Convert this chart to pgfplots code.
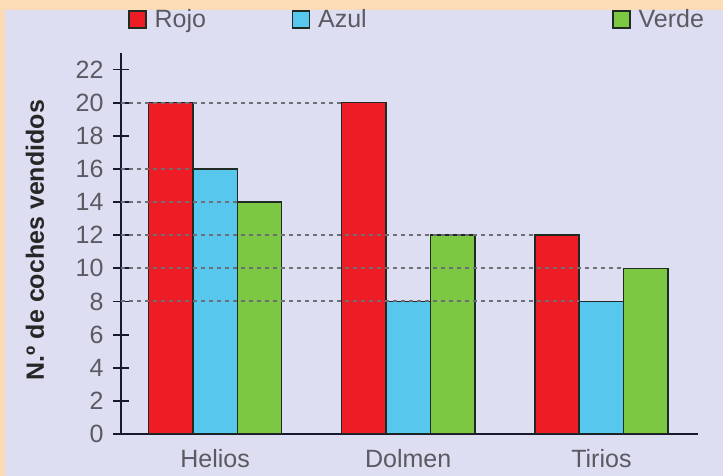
\documentclass[border=0pt]{standalone}
\usepackage{fontspec}
\setmainfont{Liberation Sans}
\usepackage{pgfplots}
\pgfplotsset{compat=1.18}
\definecolor{peach}{HTML}{FCDCB6}
\definecolor{lav}{HTML}{DDDEF1}
\definecolor{rojo}{HTML}{EE1C25}
\definecolor{azul}{HTML}{58C7EE}
\definecolor{verde}{HTML}{7CC843}
\definecolor{txtgray}{HTML}{5A5A62}
\definecolor{edge}{HTML}{1E2A22}
\definecolor{axcol}{HTML}{1A1A2E}
\definecolor{dashcol}{HTML}{6E6E78}
\pgfplotsset{
  bx/.style={legend image code/.code={\draw[##1, line width=1.5pt] (0pt,-8.5pt) rectangle (17pt,8.5pt);}},
  refline/.style={sharp plot, forget plot, draw=dashcol, line width=2pt, dash pattern=on 4pt off 4pt},
}
\begin{document}
\begin{tikzpicture}
\useasboundingbox (0pt,0pt) rectangle (723pt,476pt);
\fill[peach] (0pt,0pt) rectangle (723pt,476pt);
\fill[lav] (5pt,0pt) rectangle (723pt,466pt);
\begin{axis}[
  at={(121pt,42pt)}, anchor=south west,
  scale only axis, width=577pt, height=381pt,
  xmin=-0.487, xmax=2.5, ymin=0, ymax=23,
  axis lines*=left,
  axis line style={line width=2.2pt, color=axcol},
  ybar, bar width=0.23,
  xtick={0,1,2}, xticklabels={Helios,Dolmen,Tirios},
  ytick={0,2,...,22},
  xtick style={draw=none},
  ytick style={line width=1.8pt, color=axcol},
  tick align=center, major tick length=16pt,
  /pgf/number format/assume math mode=true,
  tick label style={font=\fontsize{25}{28}\selectfont, text=txtgray},
  xticklabel style={inner ysep=0pt, yshift=-7pt},
  yticklabel style={xshift=-6pt},
  ylabel={\bfseries N.º de coches vendidos},
  ylabel style={at={(axis description cs:-0.149,0.509)}, anchor=center, font=\fontsize{25}{28}\selectfont, text=black!85},
  legend style={draw=none, fill=none, at={(0.012,1.088)}, anchor=west, inner sep=0pt,
    legend columns=3, font=\fontsize{25}{28}\selectfont, text=txtgray,
    /tikz/every even column/.append style={column sep=0pt}},
]
\addplot[bx, bar shift=-0.23, fill=rojo, draw=edge, line width=1.5pt] coordinates {(0,20) (1,20) (2,12)};
\addlegendentry{\hspace{6pt}\makebox[135pt][l]{Rojo}}
\addplot[bx, bar shift=0, fill=azul, draw=edge, line width=1.5pt] coordinates {(0,16) (1,8) (2,8)};
\addlegendentry{\hspace{6pt}\makebox[292pt][l]{Azul}}
\addplot[bx, bar shift=0.23, fill=verde, draw=edge, line width=1.5pt] coordinates {(0,14) (1,12) (2,10)};
\addlegendentry{\hspace{6pt}Verde}
% reference lines
\addplot[refline] coordinates {(-0.487,20) (0.655,20)};
\addplot[refline] coordinates {(-0.487,16) (-0.115,16)};
\addplot[refline] coordinates {(-0.487,14) (0.115,14)};
\addplot[refline] coordinates {(-0.487,12) (1.655,12)};
\addplot[refline] coordinates {(-0.487,10) (2.115,10)};
\addplot[refline] coordinates {(-0.487,8) (1.885,8)};
\end{axis}
\end{tikzpicture}
\end{document}
